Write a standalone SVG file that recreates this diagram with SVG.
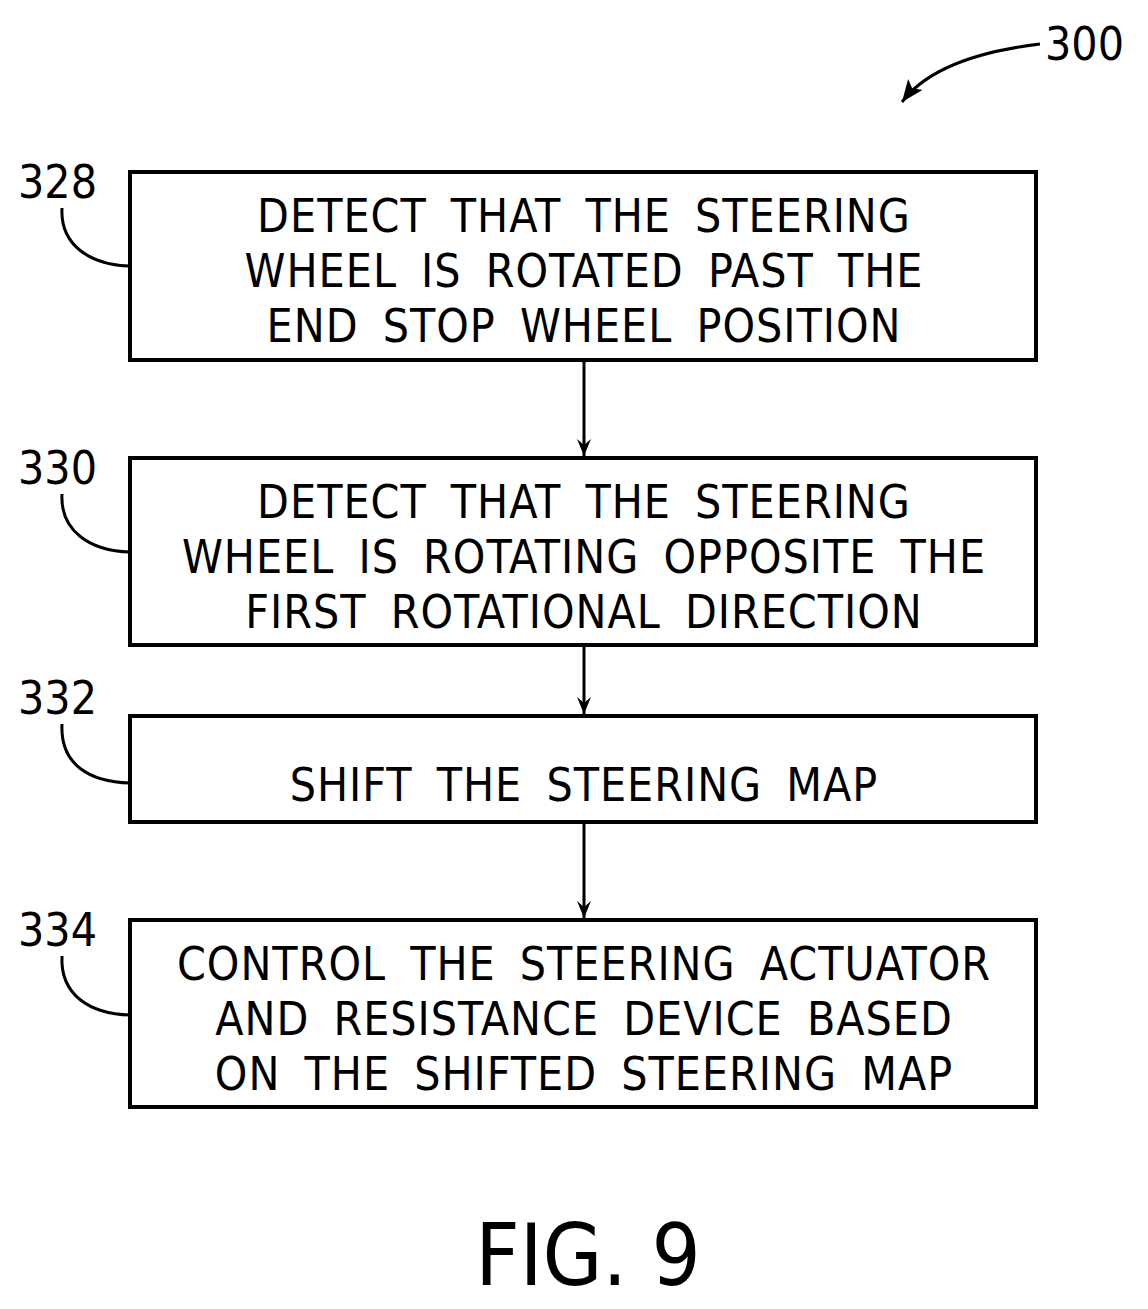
<svg xmlns="http://www.w3.org/2000/svg" width="1148" height="1309" viewBox="0 0 1148 1309">
<style>
.box{fill:#fff;stroke:#000;stroke-width:4}
.t{font-family:"DejaVu Sans Condensed","Liberation Sans",sans-serif;font-size:46px;text-anchor:middle;letter-spacing:1px;word-spacing:10px}
.n{font-family:"DejaVu Sans Condensed","Liberation Sans",sans-serif;font-size:46px}
.l{fill:none;stroke:#000;stroke-width:3}
</style>
<defs><marker id="a" markerWidth="18" markerHeight="14" refX="17" refY="7" orient="auto" markerUnits="userSpaceOnUse"><path d="M0,0 L17,7 L0,14 L6,7 Z"/></marker>
<marker id="b" markerWidth="24" markerHeight="18" refX="22" refY="9" orient="auto" markerUnits="userSpaceOnUse"><path d="M0,0 L22,9 L0,18 L5,9 Z"/></marker></defs>
<g id="ref300"><text class="n" x="1045" y="60">300</text><path class="l" d="M1040,44 C990,50 930,65 902,102" marker-end="url(#b)"/></g>
<g id="n328"><rect class="box" x="130" y="172" width="906" height="188"/>
<text class="t" x="584" y="232">DETECT THAT THE STEERING</text>
<text class="t" x="584" y="287">WHEEL IS ROTATED PAST THE</text>
<text class="t" x="584" y="342">END STOP WHEEL POSITION</text>
<text class="n" x="18" y="198">328</text><path class="l" d="M62,208 C60,245 90,265 130,266"/></g>
<g id="n330"><rect class="box" x="130" y="458" width="906" height="187"/>
<text class="t" x="584" y="518">DETECT THAT THE STEERING</text>
<text class="t" x="584" y="573">WHEEL IS ROTATING OPPOSITE THE</text>
<text class="t" x="584" y="628">FIRST ROTATIONAL DIRECTION</text>
<text class="n" x="18" y="484">330</text><path class="l" d="M62,494 C60,531 90,551 130,552"/></g>
<g id="n332"><rect class="box" x="130" y="716" width="906" height="106"/>
<text class="t" x="584" y="801">SHIFT THE STEERING MAP</text>
<text class="n" x="18" y="714">332</text><path class="l" d="M62,724 C60,765 90,782 130,783"/></g>
<g id="n334"><rect class="box" x="130" y="920" width="906" height="187"/>
<text class="t" x="584" y="980">CONTROL THE STEERING ACTUATOR</text>
<text class="t" x="584" y="1035">AND RESISTANCE DEVICE BASED</text>
<text class="t" x="584" y="1090">ON THE SHIFTED STEERING MAP</text>
<text class="n" x="18" y="946">334</text><path class="l" d="M62,956 C60,995 90,1014 130,1015"/></g>
<g id="connectors">
<line class="l" x1="584" y1="360" x2="584" y2="456" marker-end="url(#a)"/>
<line class="l" x1="584" y1="645" x2="584" y2="714" marker-end="url(#a)"/>
<line class="l" x1="584" y1="822" x2="584" y2="918" marker-end="url(#a)"/>
</g>
<text x="588" y="1285" font-family="DejaVu Sans Condensed,Liberation Sans,sans-serif" font-size="86" text-anchor="middle">FIG. 9</text>
</svg>
